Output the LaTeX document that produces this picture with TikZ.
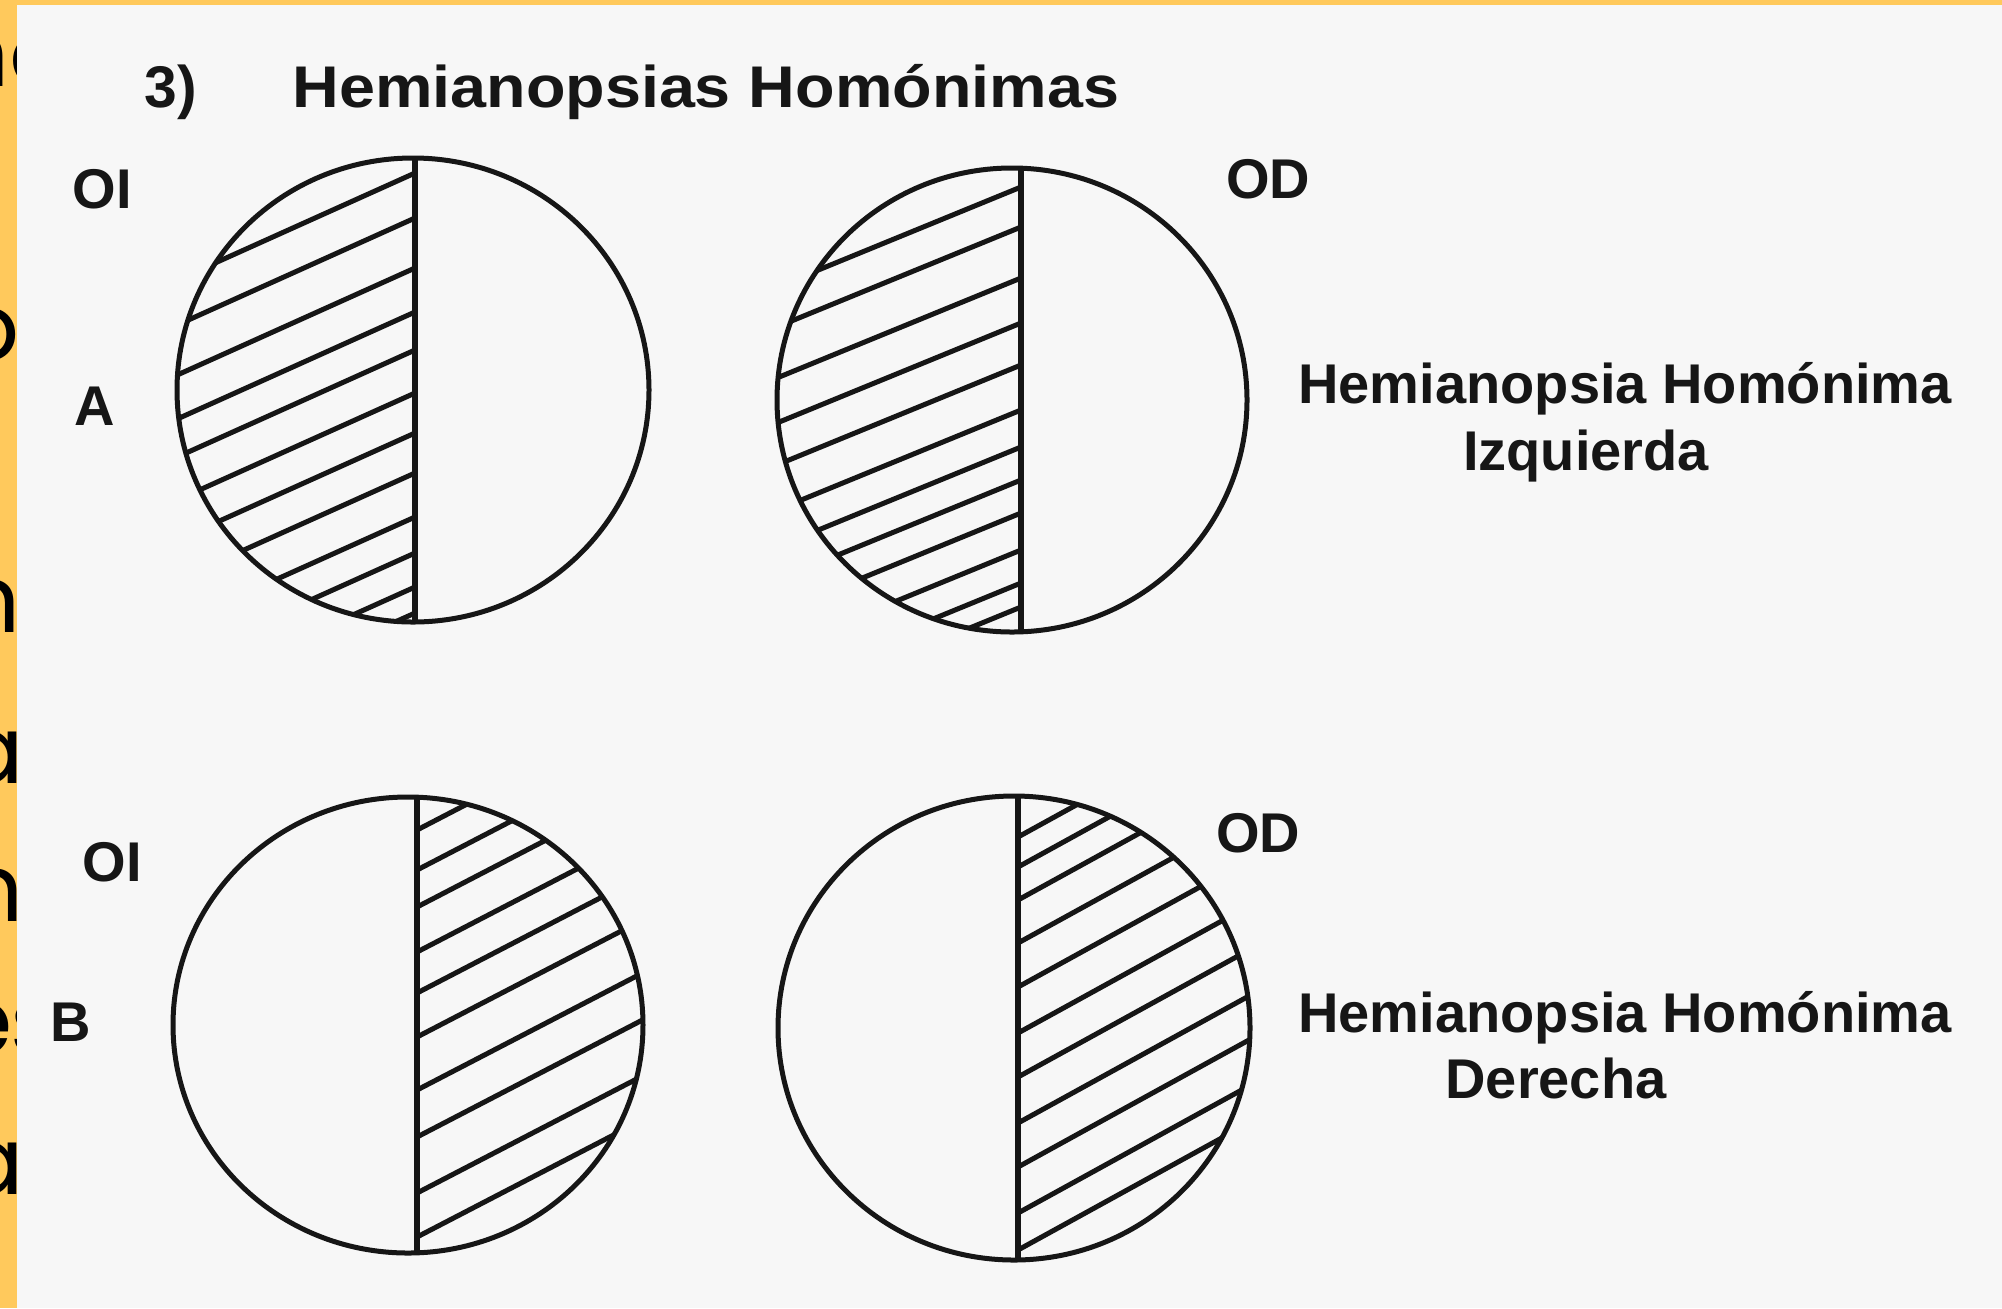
\documentclass[tikz,border=0pt]{standalone}
\usepackage{fontspec}
\setmainfont{Liberation Sans}
\newfontfamily\slidefont{Poppins}
\definecolor{slideorange}{RGB}{255,201,92}
\definecolor{paper}{RGB}{247,247,247}
\definecolor{ink}{RGB}{22,22,22}
\begin{document}
\begin{tikzpicture}[x=0.5pt,y=-0.5pt,
  lbl/.style={inner sep=0pt, font=\fontsize{28}{28}\selectfont\bfseries, text=ink},
  frag/.style={inner sep=0pt, font=\fontsize{47}{47}\selectfont\slidefont, text=black},
  rim/.style={line width=2.5pt, draw=ink},
  divider/.style={line width=3.4pt, draw=ink},
  hatch/.style={line width=2.5pt, draw=ink}]
\useasboundingbox (0,0) rectangle (2002,1308);
\fill[slideorange] (0,0) rectangle (2002,1308);
% cut-off slide text under the picture
\begin{scope}
\clip (0,0) rectangle (17,1308);
\node[frag, anchor=base east] (f1) at (10,86) {n};
\node[frag, anchor=base west] (f1b) at (9,86) {o};
\node[frag, anchor=base east] (f2) at (20,360) {o};
\node[frag, anchor=base east] (f3) at (21,632) {n};
\node[frag, anchor=base east] (f4) at (24,783) {a};
\node[frag, anchor=base east] (f5) at (24,921) {n};
\node[frag, anchor=base east] (f6) at (13,1054) {e};
\node[frag, anchor=base west] (f6b) at (10,1054) {s};
\node[frag, anchor=base east] (f7) at (24,1194) {a};
\end{scope}
\fill[paper] (17,5) rectangle (2002,1308);

% circle 1 (OI, A): left half hatched
\begin{scope}
  \clip (150,140) rectangle (415,640);
  \clip (413,390) ellipse [x radius=236, y radius=232];
  \foreach \k in {173,218,268,312,350,393,433,473,517,553,587,613}
    \draw[hatch] (415,\k) -- ++(-420,189);
\end{scope}
\draw[rim] (413,390) ellipse [x radius=236, y radius=232];
\draw[divider] (415,158) -- (415,622);

% circle 2 (OD, A): left half hatched
\begin{scope}
  \clip (760,150) rectangle (1021,650);
  \clip (1012,400) ellipse [x radius=235, y radius=232];
  \foreach \k in {187,227,278,323,365,410,447,480,513,550,583,607}
    \draw[hatch] (1021,\k) -- ++(-420,172);
\end{scope}
\draw[rim] (1012,400) ellipse [x radius=235, y radius=232];
\draw[divider] (1021,168) -- (1021,632);

% circle 3 (OI, B): right half hatched
\begin{scope}
  \clip (417,780) rectangle (680,1270);
  \clip (408,1025) ellipse [x radius=235, y radius=228];
  \foreach \k in {830,870,907,952,993,1037,1090,1137,1193,1237}
    \draw[hatch] (417,\k) -- ++(420,-218);
\end{scope}
\draw[rim] (408,1025) ellipse [x radius=235, y radius=228];
\draw[divider] (417,797) -- (417,1253);

% circle 4 (OD, B): right half hatched
\begin{scope}
  \clip (1018,780) rectangle (1290,1280);
  \clip (1014,1028) ellipse [x radius=236, y radius=232];
  \foreach \k in {837,867,900,943,987,1033,1077,1123,1167,1213,1250}
    \draw[hatch] (1018,\k) -- ++(420,-231);
\end{scope}
\draw[rim] (1014,1028) ellipse [x radius=236, y radius=232];
\draw[divider] (1018,796) -- (1018,1260);

% texts
\node[lbl, anchor=base west, font=\fontsize{29.4}{29.4}\selectfont\bfseries] (num) at (144,107) {3)};
\node[lbl, anchor=base west, font=\fontsize{29.4}{29.4}\selectfont\bfseries] (title) at (292,107) {\scalebox{1.1}[1]{Hemianopsias Homónimas}};
\node[lbl, anchor=base] (oi1) at (102,208) {OI};
\node[lbl, anchor=base] (a) at (95,425) {A};
\node[lbl, anchor=base] (od1) at (1268,198) {OD};
\node[lbl, anchor=base west] (hh1) at (1298,403) {Hemianopsia Homónima};
\node[lbl, anchor=base] (izq) at (1586,470) {Izquierda};
\node[lbl, anchor=base] (oi2) at (112,881) {OI};
\node[lbl, anchor=base] (b) at (71,1041) {B};
\node[lbl, anchor=base] (od2) at (1258,852) {OD};
\node[lbl, anchor=base west] (hh2) at (1298,1032) {Hemianopsia Homónima};
\node[lbl, anchor=base] (der) at (1556,1098) {Derecha};
\end{tikzpicture}
\end{document}
